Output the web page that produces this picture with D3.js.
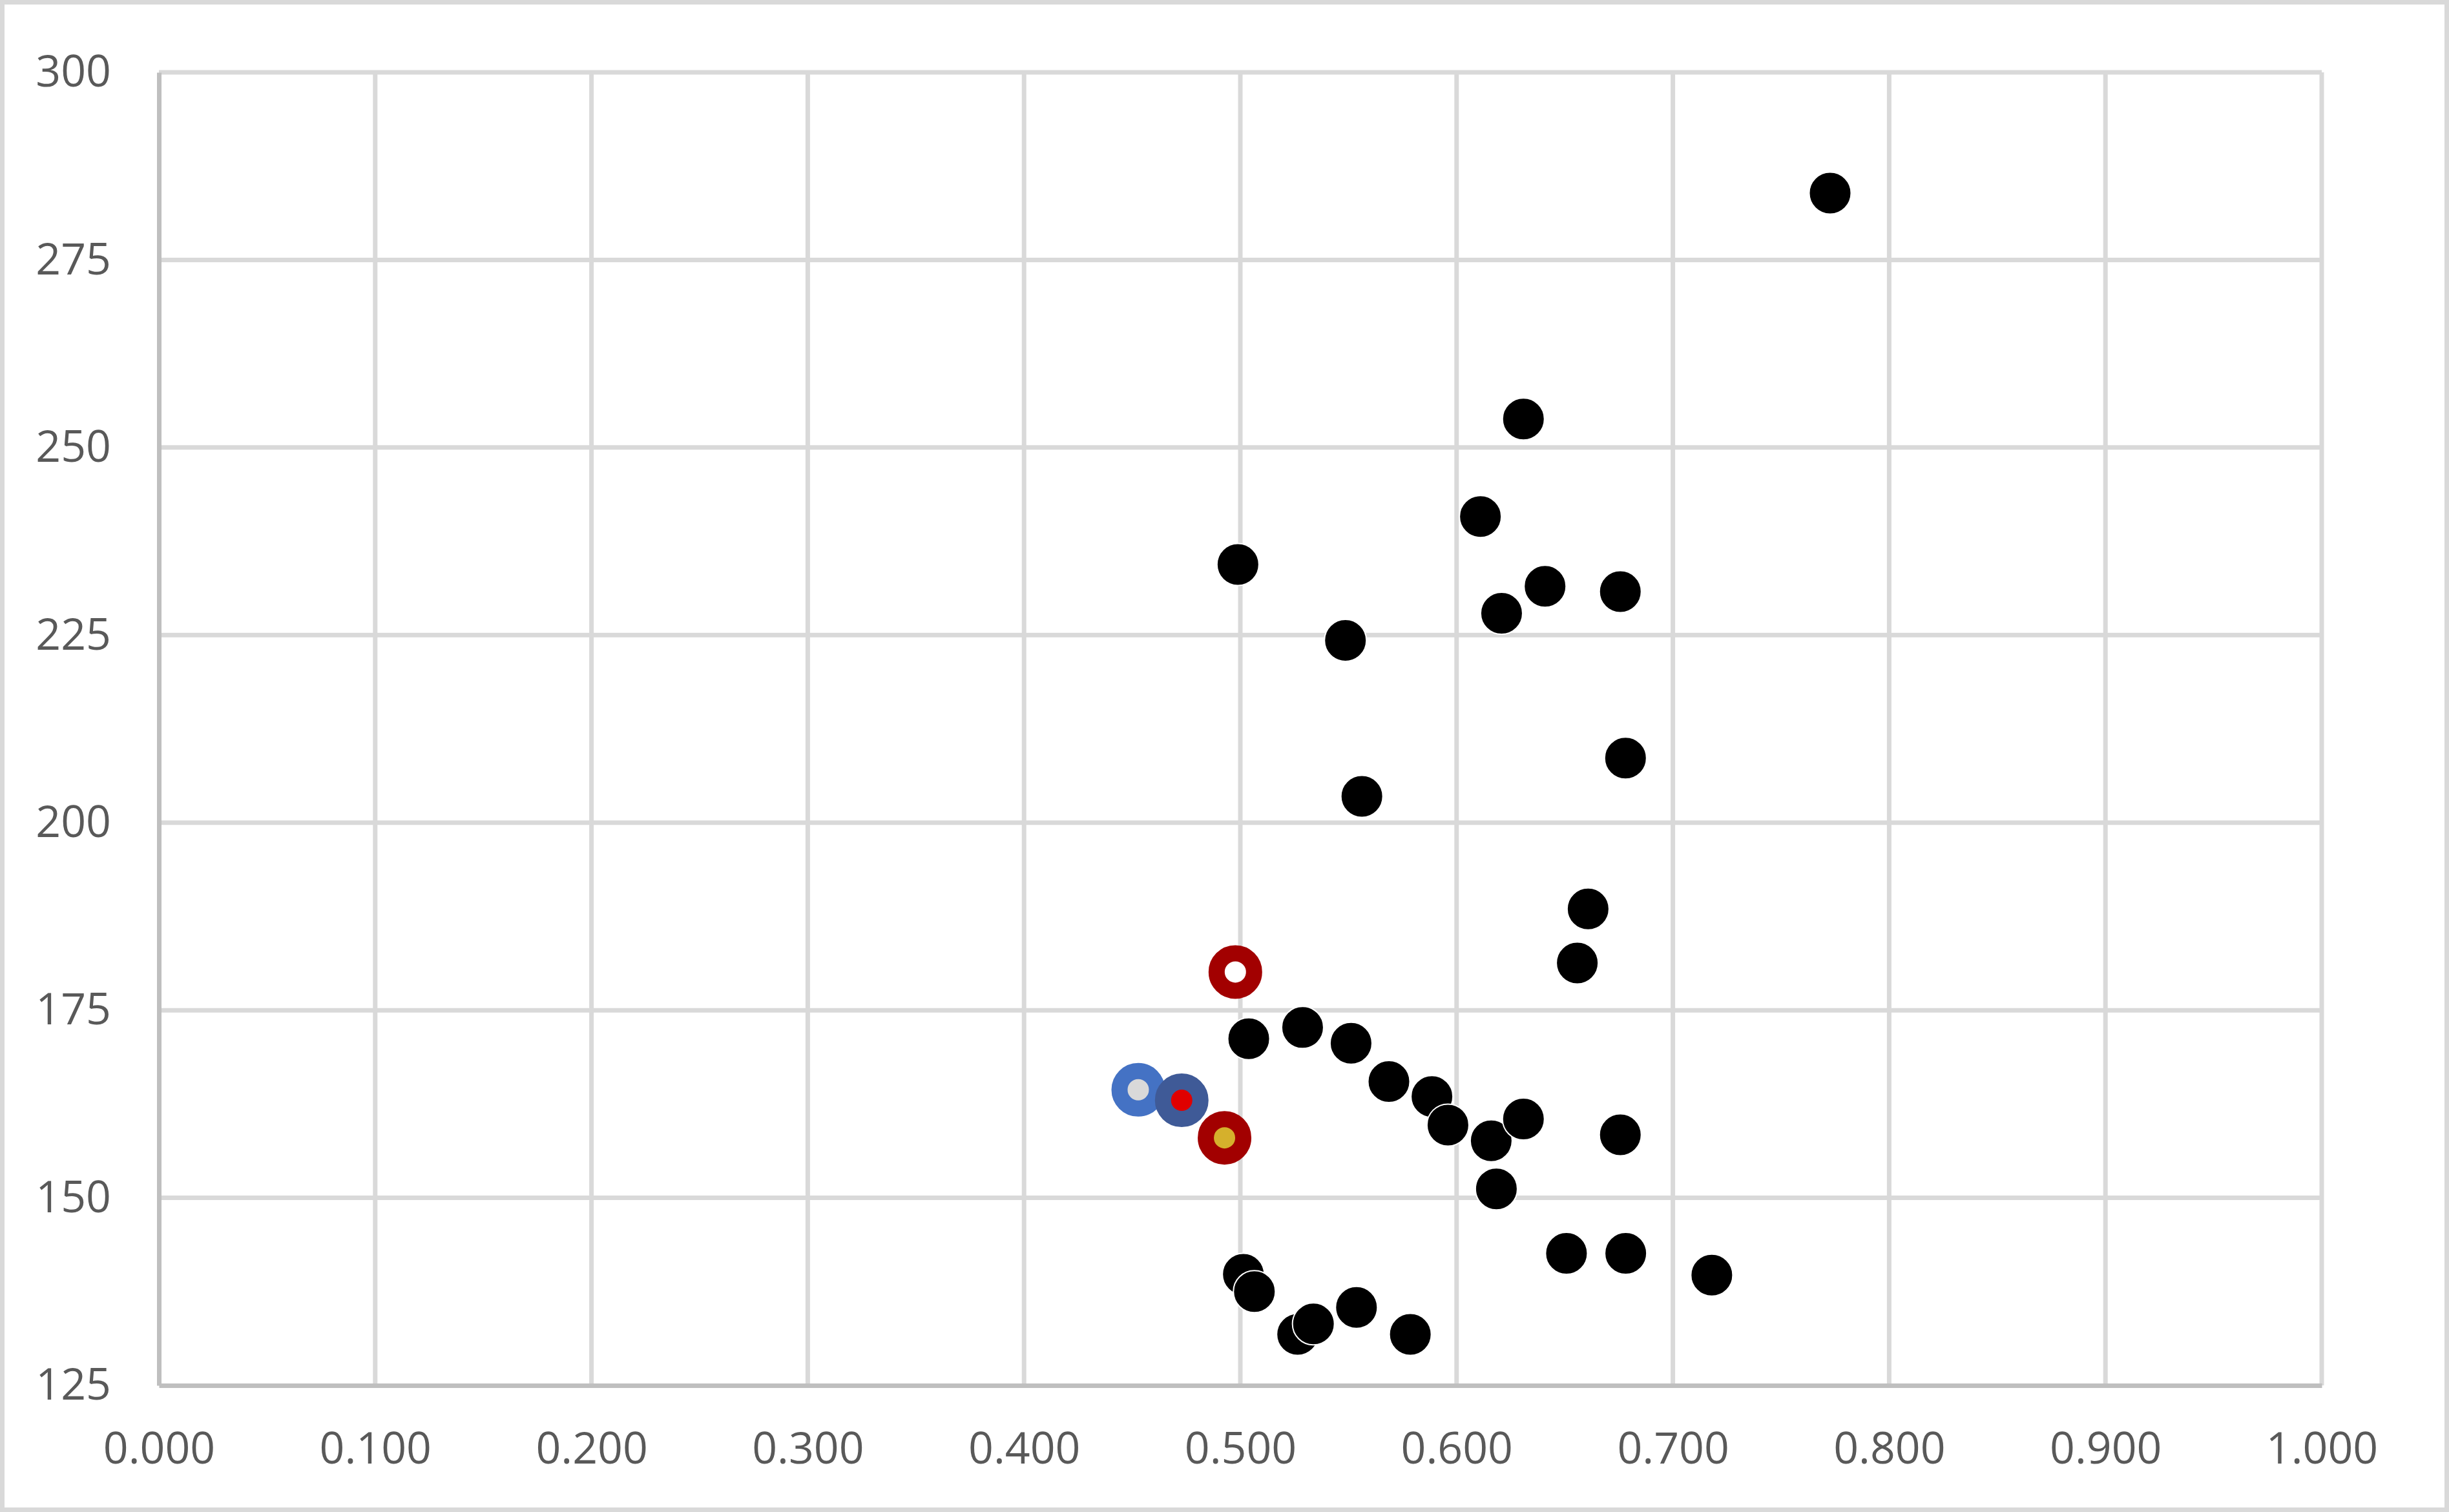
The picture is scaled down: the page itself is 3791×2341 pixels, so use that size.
<!DOCTYPE html>
<html>
<head>
<meta charset="utf-8">
<script src="https://cdn.jsdelivr.net/npm/d3@7"></script>
<style>
  html, body { margin: 0; padding: 0; background: #fff; }
  svg { display: block; }
  .tick text { font-family: "Open Sans", "Noto Sans", sans-serif; fill: #595959; }
</style>
</head>
<body>
<script>
// black series
const xValues = [0.7727, 0.6309, 0.6110, 0.4989, 0.6409, 0.6757, 0.6208, 0.5486, 0.6781, 0.5562,
                 0.6608, 0.6558, 0.5039, 0.5288, 0.5512, 0.5687, 0.5886, 0.5960, 0.6160, 0.6309,
                 0.6184, 0.6757, 0.6508, 0.6782, 0.7180, 0.5014, 0.5065, 0.5265, 0.5338, 0.5537,
                 0.5786];
const yValues = [283.9, 253.8, 240.8, 234.4, 231.5, 230.8, 227.9, 224.3, 208.6, 203.5,
                 188.5, 181.3, 171.2, 172.7, 170.6, 165.5, 163.5, 159.7, 157.6, 160.5,
                 151.2, 158.4, 142.6, 142.6, 139.7, 139.8, 137.5, 131.8, 133.2, 135.4,
                 131.8];

// four highlighted points (drawn on top, in this order)
const highlightX = [0.4528, 0.4729, 0.4927, 0.4977];
const highlightY = [164.4, 163.0, 158.0, 180.1];
const ringColors = ["#4472c4", "#3f5a97", "#a20000", "#a20000"];
const coreColors = ["#d9d9d9", "#e00000", "#d5b02c", "#ffffff"];

const xTicks = [0, 0.1, 0.2, 0.3, 0.4, 0.5, 0.6, 0.7, 0.8, 0.9, 1.0];
const yTicks = [125, 150, 175, 200, 225, 250, 275, 300];

const width = 3791, height = 2341;
const plot = { left: 246, right: 3594, top: 112, bottom: 2145 };

const svg = d3.select("body")
  .append("svg")
  .attr("xmlns", "http://www.w3.org/2000/svg")
  .attr("width", width)
  .attr("height", height);

// chart area frame
svg.append("rect")
  .attr("x", 3.5).attr("y", 3.5)
  .attr("width", width - 7).attr("height", height - 7)
  .attr("fill", "#fff")
  .attr("stroke", "#d9d9d9")
  .attr("stroke-width", 7);

const x = d3.scaleLinear().domain([0, 1]).range([plot.left, plot.right]);
const y = d3.scaleLinear().domain([125, 300]).range([plot.bottom, plot.top]);

// gridlines
const grid = svg.append("g").attr("class", "grid");
grid.selectAll("line.v")
  .data(xTicks.slice(1))
  .join("line")
  .attr("class", "v")
  .attr("x1", d => x(d)).attr("x2", d => x(d))
  .attr("y1", plot.top).attr("y2", plot.bottom)
  .attr("stroke", "#d9d9d9")
  .attr("stroke-width", 7);
grid.selectAll("line.h")
  .data(yTicks.slice(1))
  .join("line")
  .attr("class", "h")
  .attr("x1", plot.left).attr("x2", plot.right)
  .attr("y1", d => y(d)).attr("y2", d => y(d))
  .attr("stroke", "#d9d9d9")
  .attr("stroke-width", 7);

// axes
const xAxis = d3.axisBottom(x)
  .tickValues(xTicks)
  .tickFormat(d3.format(".3f"))
  .tickSize(0)
  .tickPadding(73);
const yAxis = d3.axisLeft(y)
  .tickValues(yTicks)
  .tickFormat(d3.format("d"))
  .tickSize(0)
  .tickPadding(74);

const gx = svg.append("g")
  .attr("class", "x-axis")
  .attr("transform", `translate(0,${plot.bottom})`)
  .call(xAxis);
const gy = svg.append("g")
  .attr("class", "y-axis")
  .attr("transform", `translate(${plot.left},0)`)
  .call(yAxis);

svg.selectAll(".x-axis .domain, .y-axis .domain")
  .attr("stroke", "#bfbfbf")
  .attr("stroke-width", 7);
svg.selectAll(".tick text").attr("font-size", 68);

// black markers
svg.append("g")
  .attr("class", "black-series")
  .selectAll("circle")
  .data(xValues.map((v, i) => ({ x: v, y: yValues[i] })))
  .join("circle")
  .attr("cx", d => x(d.x))
  .attr("cy", d => y(d.y))
  .attr("r", 32.5)
  .attr("fill", "#000")
  .attr("stroke", "#fff")
  .attr("stroke-width", 2);

// ringed markers
svg.append("g")
  .attr("class", "highlight-series")
  .selectAll("circle")
  .data(highlightX.map((v, i) => ({ x: v, y: highlightY[i], ring: ringColors[i], core: coreColors[i] })))
  .join("circle")
  .attr("cx", d => x(d.x))
  .attr("cy", d => y(d.y))
  .attr("r", 29)
  .attr("fill", d => d.core)
  .attr("stroke", d => d.ring)
  .attr("stroke-width", 25);
</script>
</body>
</html>
